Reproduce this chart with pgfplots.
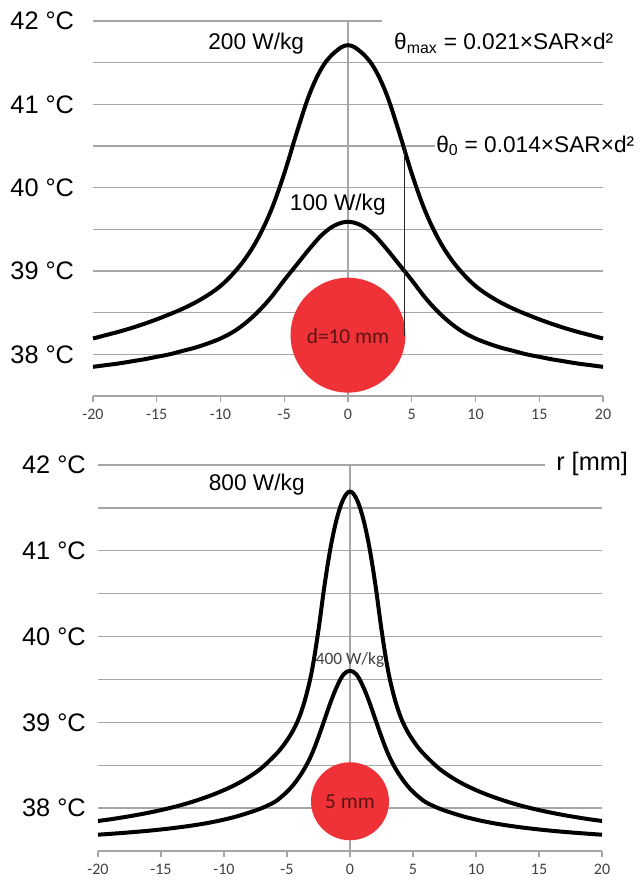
\documentclass[border=0pt]{standalone}
\usepackage{fontspec}
\setmainfont{Liberation Sans}
\newfontfamily\calibri{Carlito}
\usepackage{pgfplots}
\pgfplotsset{compat=1.18}
\definecolor{gridgray}{HTML}{A6A6A6}
\definecolor{ballred}{HTML}{EE3237}
\definecolor{balltext}{HTML}{5A1414}
\definecolor{ticktext}{HTML}{404040}

\pgfplotsset{
  panel/.style={
    scale only axis, clip=false,
    xmin=-20, xmax=20, ymin=37.5, ymax=42,
    axis x line*=bottom, axis y line*=left,
    x axis line style={draw=gridgray, line width=1pt, -},
    y axis line style={draw=none},
    xtick={-20,-15,...,20}, xticklabels={-20,-15,-10,-5,0,5,10,15,20},
    xtick align=outside, major tick length=4.5pt,
    xtick style={draw=gridgray, line width=1pt},
    ytick style={draw=none},
    xticklabel style={font=\calibri\fontsize{12}{14}\selectfont, text=ticktext, yshift=-2pt},
    ytick={38,38.5,...,41.5}, yticklabels={38 °C,,39 °C,,40 °C,,41 °C,},
    extra y ticks={42}, extra y tick labels={42 °C}, extra y tick style={grid=none},
    ymajorgrids, grid style={draw=gridgray, line width=1pt},
    yticklabel style={font=\fontsize{19}{22}\selectfont, anchor=east, inner sep=0pt},
  },
  curve/.style={black, line width=3pt, smooth, tension=0.6},
}
\tikzset{lbl/.style={font=\fontsize{17}{20}\selectfont, inner sep=1pt}}

\begin{document}
\begin{tikzpicture}
\useasboundingbox (0,0) rectangle (481.5pt,660.75pt);

% top panel: d = 10 mm
\begin{axis}[panel,
  at={(69.75pt,363.75pt)}, anchor=south west,
  width=382.5pt, height=281.25pt,
  yticklabel style={xshift=-14pt}]
\draw[gridgray, line width=1pt] (axis cs:-20,42) -- (axis cs:2.67,42);
\draw[gridgray, line width=0.8pt] (axis cs:0,37.5) -- (axis cs:0,42);
\fill[ballred] (axis cs:0,38.23) circle[radius=43.1pt];
% 200 W/kg
\addplot[curve] coordinates {
 (-20,38.19) (-19,38.23) (-18,38.27) (-17,38.315) (-16,38.365) (-15,38.42)
 (-14,38.48) (-13,38.545) (-12,38.62) (-11,38.71) (-10,38.82) (-9,38.97)
 (-8,39.16) (-7,39.41) (-6,39.74) (-5,40.17) (-4,40.67) (-3,41.13)
 (-2,41.45) (-1,41.63) (0,41.71) (1,41.63) (2,41.45) (3,41.13) (4,40.67)
 (5,40.17) (6,39.74) (7,39.41) (8,39.16) (9,38.97) (10,38.82) (11,38.71)
 (12,38.62) (13,38.545) (14,38.48) (15,38.42) (16,38.365) (17,38.315)
 (18,38.27) (19,38.23) (20,38.19)};
% 100 W/kg
\addplot[curve] coordinates {
 (-20,37.85) (-19,37.87) (-18,37.89) (-17,37.915) (-16,37.94) (-15,37.97)
 (-14,38.00) (-13,38.04) (-12,38.08) (-11,38.13) (-10,38.19) (-9,38.27)
 (-8,38.38) (-7,38.52) (-6,38.69) (-5,38.89) (-4,39.08) (-3,39.27)
 (-2,39.44) (-1,39.55) (0,39.59) (1,39.55) (2,39.44) (3,39.27) (4,39.08)
 (5,38.89) (6,38.69) (7,38.52) (8,38.38) (9,38.27) (10,38.19) (11,38.13)
 (12,38.08) (13,38.04) (14,38.00) (15,37.97) (16,37.94) (17,37.915)
 (18,37.89) (19,37.87) (20,37.85)};
\draw[black!85, line width=0.8pt] (axis cs:4.4,40.5) -- (axis cs:4.4,38.22);
\node[lbl] at (axis cs:-7.2,41.73) {200 W/kg};
\node[lbl, anchor=west] at (axis cs:3.5,41.73) {θ\textsubscript{max} = 0.021×SAR×d²};
\node[lbl, anchor=west, fill=white] at (axis cs:6.8,40.5) {θ\textsubscript{0} = 0.014×SAR×d²};
\node[lbl] at (axis cs:-0.8,39.8) {100 W/kg};
\node[font=\calibri\fontsize{16}{18}\selectfont, text=balltext] at (axis cs:0,38.22) {d=10 mm};
\end{axis}

% bottom panel: d = 5 mm
\begin{axis}[panel,
  at={(73.5pt,22.5pt)}, anchor=south west,
  width=378pt, height=289.5pt,
  yticklabel style={xshift=-9pt}]
\draw[gridgray, line width=1pt] (axis cs:-20,42) -- (axis cs:15.5,42);
\draw[gridgray, line width=0.8pt] (axis cs:0,37.5) -- (axis cs:0,42);
\fill[ballred] (axis cs:0,38.08) circle[radius=29.25pt];
% 800 W/kg
\addplot[curve] coordinates {
 (-20,37.85) (-19,37.87) (-18,37.893) (-17,37.918) (-16,37.946) (-15,37.977)
 (-14,38.012) (-13,38.052) (-12,38.098) (-11,38.15) (-10,38.21) (-9,38.28)
 (-8,38.365) (-7,38.47) (-6,38.61) (-5.5,38.69) (-5,38.79) (-4.5,38.91)
 (-4,39.07) (-3.5,39.30) (-3,39.62) (-2.5,40.08) (-2,40.62) (-1.5,41.07)
 (-1,41.40) (-0.5,41.61) (0,41.69) (0.5,41.61) (1,41.40) (1.5,41.07)
 (2,40.62) (2.5,40.08) (3,39.62) (3.5,39.30) (4,39.07) (4.5,38.91)
 (5,38.79) (5.5,38.69) (6,38.61) (7,38.47) (8,38.365) (9,38.28) (10,38.21)
 (11,38.15) (12,38.098) (13,38.052) (14,38.012) (15,37.977) (16,37.946)
 (17,37.918) (18,37.893) (19,37.87) (20,37.85)};
% 400 W/kg
\addplot[curve] coordinates {
 (-20,37.69) (-19,37.70) (-18,37.711) (-17,37.723) (-16,37.736) (-15,37.751)
 (-14,37.768) (-13,37.787) (-12,37.809) (-11,37.835) (-10,37.866) (-9,37.903)
 (-8,37.948) (-7,38.00) (-6,38.07) (-5.5,38.125) (-5,38.19) (-4.5,38.27)
 (-4,38.37) (-3.5,38.49) (-3,38.64) (-2.5,38.83) (-2,39.04) (-1.5,39.25)
 (-1,39.43) (-0.5,39.56) (0,39.60) (0.5,39.56) (1,39.43) (1.5,39.25)
 (2,39.04) (2.5,38.83) (3,38.64) (3.5,38.49) (4,38.37) (4.5,38.27)
 (5,38.19) (5.5,38.125) (6,38.07) (7,38.00) (8,37.948) (9,37.903) (10,37.866)
 (11,37.835) (12,37.809) (13,37.787) (14,37.768) (15,37.751) (16,37.736)
 (17,37.723) (18,37.711) (19,37.70) (20,37.69)};
\node[lbl] at (axis cs:-7.4,41.77) {800 W/kg};
\node[font=\calibri\fontsize{13}{15}\selectfont, text=black!75] at (axis cs:0,39.73) {400 W/kg};
\node[font=\calibri\fontsize{16}{18}\selectfont, text=balltext] at (axis cs:0,38.08) {5 mm};
\node[font=\fontsize{19}{22}\selectfont, anchor=west, inner sep=0pt] at (axis cs:16.35,42.01) {r [mm]};
\end{axis}
\end{tikzpicture}
\end{document}
